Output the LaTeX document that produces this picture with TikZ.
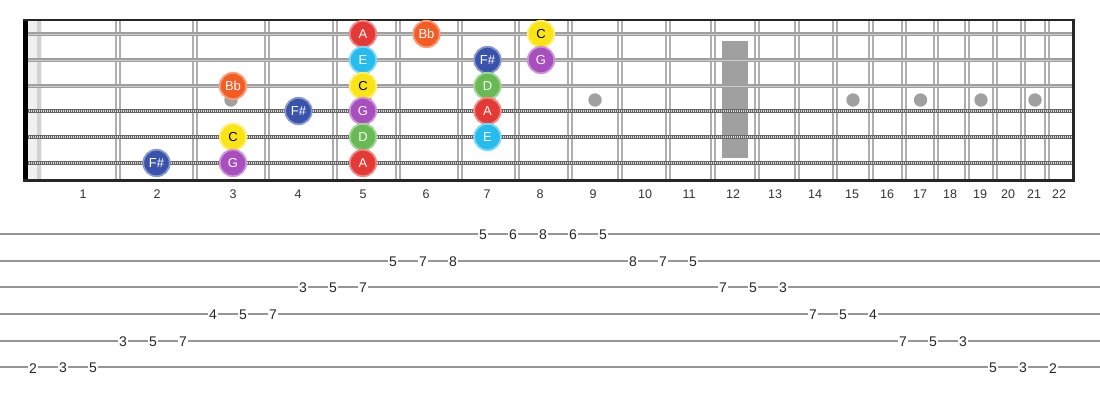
\documentclass[tikz,border=0pt]{standalone}
\usepackage{fontspec}
\setmainfont{Liberation Sans}
\definecolor{nA}{RGB}{229,57,53}
\definecolor{nBb}{RGB}{244,92,36}
\definecolor{nC}{RGB}{250,228,20}
\definecolor{nD}{RGB}{104,187,84}
\definecolor{nE}{RGB}{38,188,238}
\definecolor{nFs}{RGB}{57,82,172}
\definecolor{nG}{RGB}{168,78,190}
\definecolor{fretc}{RGB}{175,175,175}
\definecolor{tabc}{RGB}{150,150,150}
\definecolor{dotc}{RGB}{160,160,160}
\begin{document}
\begin{tikzpicture}[x=1pt,y=-1pt,
  fretline/.style={fretc,line width=1.7pt},
  plainstr/.style={gray!75,line width=3.6pt},
  plainhi/.style={gray!40,line width=1pt},
  woundstr/.style={gray!80!black,line width=4.2pt},
  woundhi/.style={white!70!gray,line width=2.4pt,dash pattern=on 1pt off 1pt},
  inlay/.style={circle,fill=dotc,minimum size=13.4pt,inner sep=0pt},
  notec/.style={circle,minimum size=26.5pt,inner sep=0pt,line width=1.8pt,font=\fontsize{13}{13}\selectfont},
  fretnum/.style={font=\fontsize{12.5}{13}\selectfont,text=black!80},
  tabnum/.style={fill=white,inner sep=1pt,font=\fontsize{14}{14}\selectfont,text=black!85},
  tabline/.style={tabc,line width=2.2pt}]
\useasboundingbox (0,0) rectangle (1100,400);
% nut
\fill[gray!12] (28,20) rectangle (42,181);
\fill[gray!35] (37,20) rectangle (41,181);
% inlays
\fill[dotc] (722,40.7) rectangle (748,158.3);
\foreach \x [count=\i] in {231,365,489,595,853,920.5,981,1035}
  \node[inlay] (dot\i) at (\x,100) {};
% frets
\foreach \x [count=\i] in {118,195,267,335,398,460,517,570,620,668,713,757,797,835,871,904,936,967,995,1023,1047}{
  \draw[fretline] (\x-1.7,20) -- (\x-1.7,181);
  \draw[fretline] (\x+1.7,20) -- (\x+1.7,181);
}
% strings
\foreach \y in {34,60,86}{
  \draw[plainstr] (23,\y) -- (1073,\y);
  \draw[plainhi] (23,\y) -- (1073,\y);
}
\foreach \y in {111,137,163}{
  \draw[woundstr] (23,\y) -- (1073,\y);
  \draw[woundhi] (23,\y) -- (1073,\y);
}
% nut bar and frame
\fill[black] (23,20) rectangle (28,181);
\draw[black!85,line width=2.2pt] (23,20) -- (1074,20);
\draw[black!85,line width=2.2pt] (23,180.5) -- (1074,180.5);
\draw[black!85,line width=2.2pt] (1073.5,19) -- (1073.5,181.5);
% fret numbers
\foreach \x [count=\i] in {83,157,233,298,363,426,487,540,593,645,689,733,775,815,852,887,920,950,980,1008,1034,1059}
  \node[fretnum] (fn\i) at (\x,194.5) {\i};
% notes
\foreach \x/\y/\t/\c/\tc [count=\i] in {
  363/34/A/nA/white, 426.5/34/Bb/nBb/white, 541/34/C/nC/black,
  363/60/E/nE/white, 487.5/60/F\#/nFs/white, 541/60/G/nG/white,
  233/86/Bb/nBb/white, 363/86/C/nC/black, 487.5/86/D/nD/white,
  298.5/111/F\#/nFs/white, 363/111/G/nG/white, 487.5/111/A/nA/white,
  233/137/C/nC/black, 363/137/D/nD/white, 487.5/137/E/nE/white,
  156.5/163/F\#/nFs/white, 233/163/G/nG/white, 363/163/A/nA/white}
  \node[notec,fill=\c,draw=\c!60!white,text=\tc] (note\i) at (\x,\y) {\t};
% tab lines
\foreach \i in {0,...,5}
  \draw[tabline] (0,234+\i*26.67) coordinate (tl\i) -- (1100,234+\i*26.67) coordinate (tr\i);
% tab numbers
\foreach \s/\t [count=\k from 0] in {
  5/2,5/3,5/5, 4/3,4/5,4/7, 3/4,3/5,3/7, 2/3,2/5,2/7, 1/5,1/7,1/8,
  0/5,0/6,0/8,0/6,0/5,
  1/8,1/7,1/5, 2/7,2/5,2/3, 3/7,3/5,3/4, 4/7,4/5,4/3, 5/5,5/3,5/2}
  \node[tabnum] (tab\k) at (33+\k*30,234.8+\s*26.67) {\t};
\end{tikzpicture}
\end{document}
